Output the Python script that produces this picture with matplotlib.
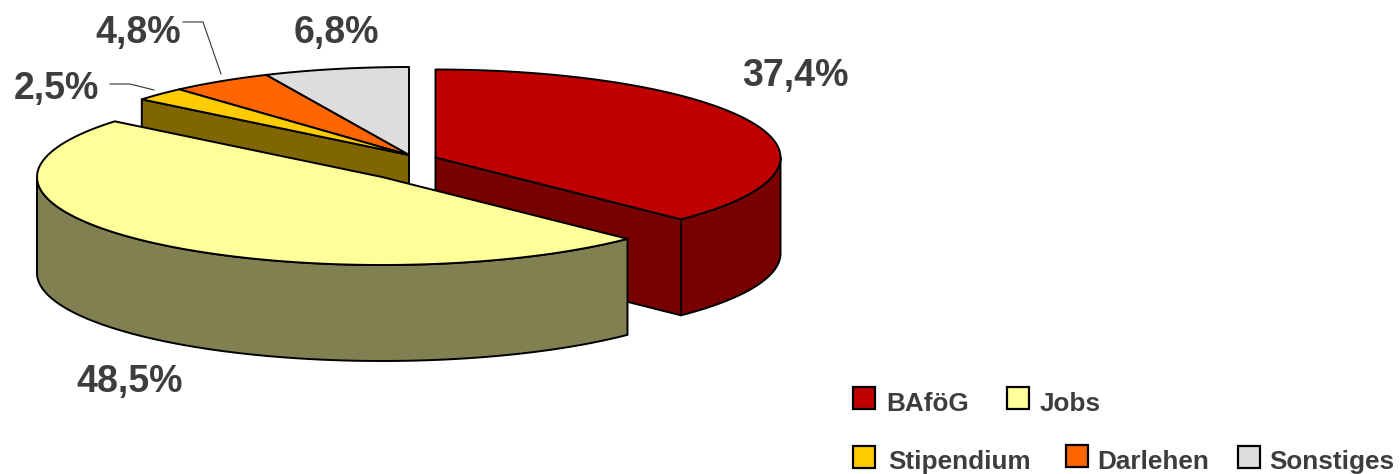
import numpy as np
import matplotlib
matplotlib.use("Agg")
import matplotlib.pyplot as plt
from matplotlib.patches import Polygon, Rectangle

# ==========================================
# Data
# ==========================================
categories = ["BAföG", "Jobs", "Stipendium", "Darlehen", "Sonstiges"]
shares = [37.4, 48.5, 2.5, 4.8, 6.8]

# ==========================================
# Styles / layout (pixel coordinates of the 1400x474 image)
# ==========================================
top_colors = ["#C00000", "#FFFF99", "#FFCC00", "#FF6600", "#DDDDDD"]
side_colors = ["#780000", "#808050", "#806600", "#803300", "#6E6E6E"]
centers = [(435.5, 157.5), (382, 177), (409, 155), (409, 155), (409, 155)]
label_pos = [(795, 75.5), (130, 382.5), (56, 89), (138, 32.5), (336, 32.5)]
swatch_pos = [(853, 387), (1007, 387), (853, 446), (1066, 445), (1238, 446)]
text_pos = [(886, 404), (1040, 404), (888, 462), (1097, 462), (1269, 462)]

RX, RY = 345, 88
DEPTH = 96
LW = 1.4
TEXT_COLOR = "#3F3C3C"

plt.rcParams["font.family"] = ["Liberation Sans", "DejaVu Sans"]

fig = plt.figure(figsize=(14, 4.74), dpi=100)
ax = fig.add_axes([0, 0, 1, 1])
ax.set_xlim(0, 1400)
ax.set_ylim(474, 0)
ax.axis("off")


def rim(center, a0, a1):
    # angle in degrees, clockwise from 12 o'clock
    t = np.radians(np.linspace(a0, a1, 120))
    return np.column_stack([center[0] + RX * np.sin(t), center[1] - RY * np.cos(t)])


def poly(pts, color, z):
    ax.add_patch(Polygon(pts, closed=True, facecolor=color, edgecolor="black",
                         linewidth=LW, joinstyle="round", zorder=z))


# ==========================================
# Pie slices
# ==========================================
edges = np.concatenate([[0], np.cumsum(shares)]) * 3.6

# draw order: back slices first, then the two big exploded ones
for i, z in zip([4, 3, 2, 0, 1], [1, 2, 3, 4, 5]):
    c = np.array(centers[i], dtype=float)
    a0, a1 = edges[i], edges[i + 1]
    down = np.array([0, DEPTH])

    # cut faces visible from the front
    if i == 0:
        corner = rim(c, a1, a1)[0]
        poly([c, corner, corner + down, c + down], side_colors[i], z)
    if i == 2:
        corner = rim(c, a0, a0)[0]
        poly([c, corner, corner + down, c + down], side_colors[i], z)

    # outer wall, only the part on the front half
    w0, w1 = max(a0, 90), min(a1, 270)
    if w0 < w1:
        arc = rim(c, w0, w1)
        poly(np.vstack([arc, (arc + down)[::-1]]), side_colors[i], z)

    # top face
    poly(np.vstack([[c], rim(c, a0, a1)]), top_colors[i], z)

# ==========================================
# Labels and leader lines
# ==========================================
for val, (x, y) in zip(shares, label_pos):
    ax.text(x, y, f"{val:.1f}%".replace(".", ","), fontsize=27, fontweight="bold",
            color=TEXT_COLOR, ha="center", va="center", zorder=10)

ax.plot([183, 203, 221], [22, 22, 74], color="#333333", lw=0.8, zorder=9)
ax.plot([110, 130, 154], [84, 84, 90], color="#333333", lw=0.8, zorder=9)

# ==========================================
# Legend
# ==========================================
for name, col, (sx, sy), (tx, ty) in zip(categories, top_colors, swatch_pos, text_pos):
    ax.add_patch(Rectangle((sx, sy), 22, 22, facecolor=col, edgecolor="black",
                           linewidth=1.6, zorder=10))
    ax.text(tx, ty, name, fontsize=18.8, fontweight="bold", color=TEXT_COLOR,
            ha="left", va="center", zorder=10)

fig.savefig("out.png", dpi=100)
